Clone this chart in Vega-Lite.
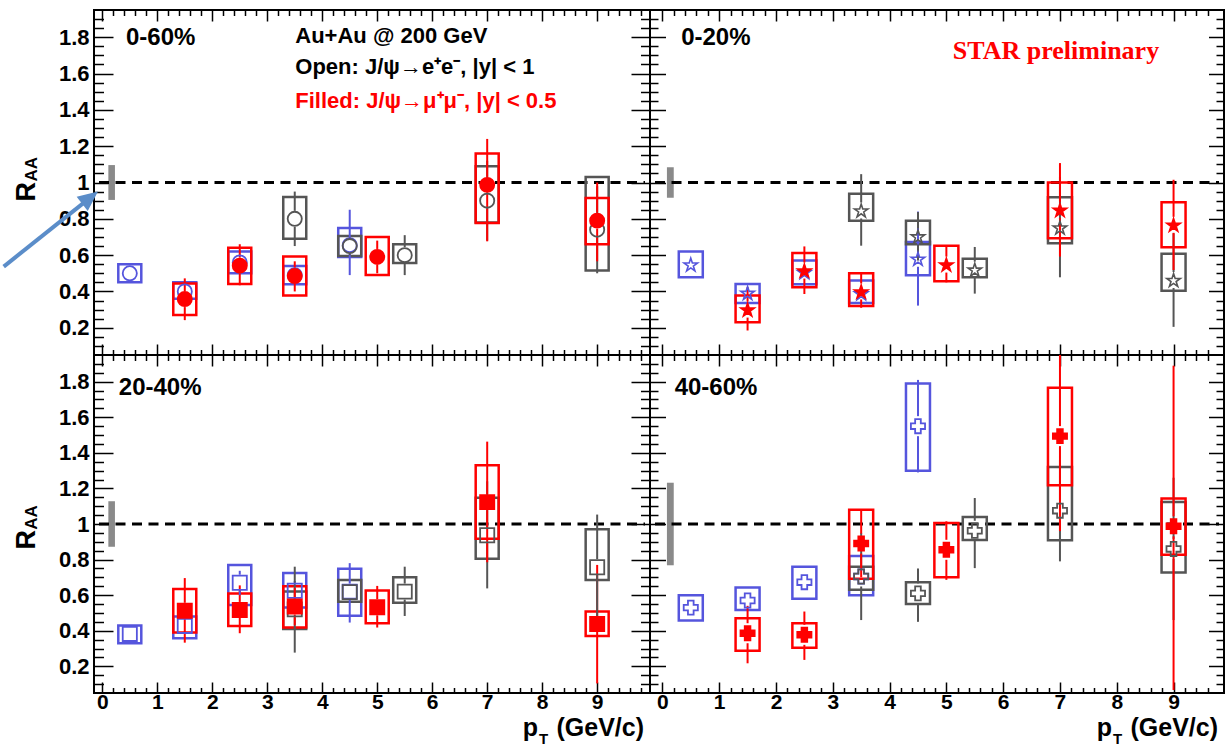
{
 "$schema": "https://vega.github.io/schema/vega-lite/v6.json",
 "padding": {"left": 0, "top": 7, "right": 0, "bottom": 0},
 "background": "white",
 "columns": 2,
 "spacing": 0,
 "bounds": "flush",
 "datasets": {
  "gband": [
   {"panel": "0-60%", "lo": 0.904, "hi": 1.096},
   {"panel": "0-20%", "lo": 0.916, "hi": 1.084},
   {"panel": "20-40%", "lo": 0.872, "hi": 1.128},
   {"panel": "40-60%", "lo": 0.768, "hi": 1.232}
  ],
  "pts": [
   {"panel":"0-60%","s":"blue","pt":0.5,"v":0.5,"slo":0.45,"shi":0.55,"elo":0.48,"ehi":0.52},
   {"panel":"0-60%","s":"blue","pt":1.5,"v":0.4,"slo":0.36,"shi":0.45,"elo":0.37,"ehi":0.43},
   {"panel":"0-60%","s":"blue","pt":2.5,"v":0.56,"slo":0.5,"shi":0.62,"elo":0.53,"ehi":0.59},
   {"panel":"0-60%","s":"blue","pt":3.5,"v":0.49,"slo":0.44,"shi":0.54,"elo":0.46,"ehi":0.52},
   {"panel":"0-60%","s":"blue","pt":4.5,"v":0.655,"slo":0.59,"shi":0.75,"elo":0.49,"ehi":0.85},
   {"panel":"0-60%","s":"gray","pt":3.5,"v":0.8,"slo":0.69,"shi":0.92,"elo":0.65,"ehi":0.95},
   {"panel":"0-60%","s":"gray","pt":4.5,"v":0.65,"slo":0.595,"shi":0.705,"elo":0.6,"ehi":0.7},
   {"panel":"0-60%","s":"gray","pt":5.5,"v":0.6,"slo":0.557,"shi":0.66,"elo":0.49,"ehi":0.71},
   {"panel":"0-60%","s":"gray","pt":7,"v":0.9,"slo":0.78,"shi":1.09,"elo":0.68,"ehi":1.12},
   {"panel":"0-60%","s":"gray","pt":9,"v":0.74,"slo":0.515,"shi":1.03,"elo":0.5,"ehi":0.98},
   {"panel":"0-60%","s":"red","pt":1.5,"v":0.358,"slo":0.27,"shi":0.444,"elo":0.242,"ehi":0.472},
   {"panel":"0-60%","s":"red","pt":2.5,"v":0.542,"slo":0.441,"shi":0.641,"elo":0.434,"ehi":0.66},
   {"panel":"0-60%","s":"red","pt":3.5,"v":0.485,"slo":0.377,"shi":0.592,"elo":0.4,"ehi":0.566},
   {"panel":"0-60%","s":"red","pt":5,"v":0.59,"slo":0.49,"shi":0.7,"elo":0.5,"ehi":0.68},
   {"panel":"0-60%","s":"red","pt":7,"v":0.987,"slo":0.777,"shi":1.16,"elo":0.676,"ehi":1.24},
   {"panel":"0-60%","s":"red","pt":9,"v":0.79,"slo":0.66,"shi":0.914,"elo":0.566,"ehi":1.0},

   {"panel":"0-20%","s":"blue","pt":0.5,"v":0.548,"slo":0.478,"shi":0.62,"elo":0.52,"ehi":0.575},
   {"panel":"0-20%","s":"blue","pt":1.5,"v":0.392,"slo":0.337,"shi":0.441,"elo":0.35,"ehi":0.44},
   {"panel":"0-20%","s":"blue","pt":2.5,"v":0.507,"slo":0.44,"shi":0.57,"elo":0.47,"ehi":0.545},
   {"panel":"0-20%","s":"blue","pt":3.5,"v":0.39,"slo":0.337,"shi":0.46,"elo":0.36,"ehi":0.42},
   {"panel":"0-20%","s":"blue","pt":4.5,"v":0.58,"slo":0.489,"shi":0.672,"elo":0.322,"ehi":0.84},
   {"panel":"0-20%","s":"gray","pt":3.5,"v":0.846,"slo":0.79,"shi":0.938,"elo":0.652,"ehi":1.046},
   {"panel":"0-20%","s":"gray","pt":4.5,"v":0.703,"slo":0.66,"shi":0.79,"elo":0.57,"ehi":0.837},
   {"panel":"0-20%","s":"gray","pt":5.5,"v":0.52,"slo":0.478,"shi":0.58,"elo":0.388,"ehi":0.645},
   {"panel":"0-20%","s":"gray","pt":7,"v":0.752,"slo":0.665,"shi":0.919,"elo":0.478,"ehi":1.03},
   {"panel":"0-20%","s":"gray","pt":9,"v":0.463,"slo":0.404,"shi":0.607,"elo":0.205,"ehi":0.72},
   {"panel":"0-20%","s":"red","pt":1.5,"v":0.3,"slo":0.231,"shi":0.377,"elo":0.185,"ehi":0.423},
   {"panel":"0-20%","s":"red","pt":2.5,"v":0.515,"slo":0.423,"shi":0.612,"elo":0.386,"ehi":0.648},
   {"panel":"0-20%","s":"red","pt":3.5,"v":0.4,"slo":0.32,"shi":0.5,"elo":0.31,"ehi":0.505},
   {"panel":"0-20%","s":"red","pt":5,"v":0.548,"slo":0.456,"shi":0.652,"elo":0.45,"ehi":0.652},
   {"panel":"0-20%","s":"red","pt":7,"v":0.849,"slo":0.693,"shi":1.0,"elo":0.592,"ehi":1.107},
   {"panel":"0-20%","s":"red","pt":9,"v":0.767,"slo":0.643,"shi":0.891,"elo":0.518,"ehi":1.015},

   {"panel":"20-40%","s":"blue","pt":0.5,"v":0.382,"slo":0.33,"shi":0.43,"elo":0.36,"ehi":0.4},
   {"panel":"20-40%","s":"blue","pt":1.5,"v":0.427,"slo":0.358,"shi":0.48,"elo":0.39,"ehi":0.46},
   {"panel":"20-40%","s":"blue","pt":2.5,"v":0.67,"slo":0.545,"shi":0.77,"elo":0.6,"ehi":0.737},
   {"panel":"20-40%","s":"blue","pt":3.5,"v":0.625,"slo":0.53,"shi":0.725,"elo":0.57,"ehi":0.68},
   {"panel":"20-40%","s":"blue","pt":4.5,"v":0.62,"slo":0.484,"shi":0.748,"elo":0.446,"ehi":0.78},
   {"panel":"20-40%","s":"gray","pt":3.5,"v":0.52,"slo":0.41,"shi":0.62,"elo":0.277,"ehi":0.76},
   {"panel":"20-40%","s":"gray","pt":4.5,"v":0.617,"slo":0.563,"shi":0.685,"elo":0.58,"ehi":0.65},
   {"panel":"20-40%","s":"gray","pt":5.5,"v":0.62,"slo":0.558,"shi":0.7,"elo":0.483,"ehi":0.76},
   {"panel":"20-40%","s":"gray","pt":7,"v":0.937,"slo":0.804,"shi":1.147,"elo":0.638,"ehi":1.24},
   {"panel":"20-40%","s":"gray","pt":9,"v":0.757,"slo":0.685,"shi":0.97,"elo":0.46,"ehi":1.053},
   {"panel":"20-40%","s":"red","pt":1.5,"v":0.512,"slo":0.39,"shi":0.634,"elo":0.333,"ehi":0.696},
   {"panel":"20-40%","s":"red","pt":2.5,"v":0.517,"slo":0.427,"shi":0.61,"elo":0.386,"ehi":0.655},
   {"panel":"20-40%","s":"red","pt":3.5,"v":0.536,"slo":0.418,"shi":0.65,"elo":0.43,"ehi":0.64},
   {"panel":"20-40%","s":"red","pt":5,"v":0.532,"slo":0.442,"shi":0.626,"elo":0.418,"ehi":0.652},
   {"panel":"20-40%","s":"red","pt":7,"v":1.123,"slo":0.917,"shi":1.33,"elo":0.785,"ehi":1.463},
   {"panel":"20-40%","s":"red","pt":9,"v":0.438,"slo":0.37,"shi":0.508,"elo":0.104,"ehi":0.77},

   {"panel":"40-60%","s":"blue","pt":0.5,"v":0.53,"slo":0.457,"shi":0.6,"elo":0.5,"ehi":0.56},
   {"panel":"40-60%","s":"blue","pt":1.5,"v":0.57,"slo":0.517,"shi":0.643,"elo":0.54,"ehi":0.6},
   {"panel":"40-60%","s":"blue","pt":2.5,"v":0.673,"slo":0.58,"shi":0.76,"elo":0.64,"ehi":0.71},
   {"panel":"40-60%","s":"blue","pt":3.5,"v":0.705,"slo":0.6,"shi":0.82,"elo":0.66,"ehi":0.75},
   {"panel":"40-60%","s":"blue","pt":4.5,"v":1.55,"slo":1.3,"shi":1.79,"elo":1.29,"ehi":1.81},
   {"panel":"40-60%","s":"gray","pt":3.5,"v":0.705,"slo":0.63,"shi":0.76,"elo":0.46,"ehi":0.95},
   {"panel":"40-60%","s":"gray","pt":4.5,"v":0.61,"slo":0.55,"shi":0.673,"elo":0.45,"ehi":0.75},
   {"panel":"40-60%","s":"gray","pt":5.5,"v":0.962,"slo":0.91,"shi":1.04,"elo":0.752,"ehi":1.146},
   {"panel":"40-60%","s":"gray","pt":7,"v":1.075,"slo":0.908,"shi":1.32,"elo":0.79,"ehi":1.36},
   {"panel":"40-60%","s":"gray","pt":9,"v":0.86,"slo":0.728,"shi":1.124,"elo":0.46,"ehi":1.26},
   {"panel":"40-60%","s":"red","pt":1.5,"v":0.386,"slo":0.288,"shi":0.47,"elo":0.217,"ehi":0.54},
   {"panel":"40-60%","s":"red","pt":2.5,"v":0.377,"slo":0.305,"shi":0.442,"elo":0.236,"ehi":0.508},
   {"panel":"40-60%","s":"red","pt":3.5,"v":0.89,"slo":0.692,"shi":1.08,"elo":0.7,"ehi":1.08},
   {"panel":"40-60%","s":"red","pt":5,"v":0.855,"slo":0.7,"shi":1.006,"elo":0.686,"ehi":1.015},
   {"panel":"40-60%","s":"red","pt":7,"v":1.494,"slo":1.218,"shi":1.766,"elo":0.96,"ehi":2.1},
   {"panel":"40-60%","s":"red","pt":9,"v":0.987,"slo":0.827,"shi":1.143,"elo":0.067,"ehi":1.89}
  ]
 },
 "concat": [
  {
   "width": 556, "height": 345,
   "layer": [
    {"data": {"name": "gband"}, "transform": [{"filter": "datum.panel=='0-60%'"}],
     "mark": {"type": "rect", "fill": "#8a8a8a"},
     "encoding": {
      "x": {"datum": 0.11, "type": "quantitative", "scale": {"domain": [-0.06, 9.87], "nice": false, "zero": false},
            "axis": {"orient": "top", "title": null, "labels": false, "values": [0,0.2,0.4,0.6,0.8,1,1.2,1.4,1.6,1.8,2,2.2,2.4,2.6,2.8,3,3.2,3.4,3.6,3.8,4,4.2,4.4,4.6,4.8,5,5.2,5.4,5.6,5.8,6,6.2,6.4,6.6,6.8,7,7.2,7.4,7.6,7.8,8,8.2,8.4,8.6,8.8,9,9.2,9.4,9.6,9.8],
                     "tickSize": {"condition": {"test": "abs(datum.value-round(datum.value))<0.01", "value": -11}, "value": -5.5}}},
      "x2": {"datum": 0.23},
      "y": {"field": "lo", "type": "quantitative", "scale": {"domain": [0.05, 1.95], "nice": false, "zero": false},
            "axis": {"orient": "right", "title": null, "labels": false, "values": [0.1,0.15,0.2,0.25,0.3,0.35,0.4,0.45,0.5,0.55,0.6,0.65,0.7,0.75,0.8,0.85,0.9,0.95,1,1.05,1.1,1.15,1.2,1.25,1.3,1.35,1.4,1.45,1.5,1.55,1.6,1.65,1.7,1.75,1.8,1.85,1.9],
                     "tickSize": {"condition": {"test": "abs(datum.value*5-round(datum.value*5))<0.01", "value": -19}, "value": -9.5}}},
      "y2": {"field": "hi"}
     }},
    {"data": {"values": [{}]},
     "mark": {"type": "rule", "color": "black", "strokeWidth": 3, "strokeDash": [10, 6.5]},
     "encoding": {
      "x": {"datum": -0.06, "type": "quantitative", "scale": {"domain": [-0.06, 9.87], "nice": false, "zero": false},
            "axis": {"orient": "bottom", "title": null, "labels": false, "values": [0,0.2,0.4,0.6,0.8,1,1.2,1.4,1.6,1.8,2,2.2,2.4,2.6,2.8,3,3.2,3.4,3.6,3.8,4,4.2,4.4,4.6,4.8,5,5.2,5.4,5.6,5.8,6,6.2,6.4,6.6,6.8,7,7.2,7.4,7.6,7.8,8,8.2,8.4,8.6,8.8,9,9.2,9.4,9.6,9.8],
                     "tickSize": {"condition": {"test": "abs(datum.value-round(datum.value))<0.01", "value": -11}, "value": -5.5}}},
      "x2": {"datum": 9.87},
      "y": {"datum": 1, "type": "quantitative", "scale": {"domain": [0.05, 1.95], "nice": false, "zero": false},
            "axis": {"orient": "left", "title": null, "values": [0.1,0.15,0.2,0.25,0.3,0.35,0.4,0.45,0.5,0.55,0.6,0.65,0.7,0.75,0.8,0.85,0.9,0.95,1,1.05,1.1,1.15,1.2,1.25,1.3,1.35,1.4,1.45,1.5,1.55,1.6,1.65,1.7,1.75,1.8,1.85,1.9],
                     "tickSize": {"condition": {"test": "abs(datum.value*5-round(datum.value*5))<0.01", "value": -19}, "value": -9.5},
                     "labelExpr": "abs(datum.value*5-round(datum.value*5))<0.01 ? ''+datum.value : ''",
                     "labelFontSize": 22, "labelPadding": 24}}
     }},
    {"data": {"name": "pts"}, "transform": [{"filter": "datum.panel=='0-60%'"}],
     "mark": {"type": "bar", "orient": "vertical", "width": 23, "fill": "transparent", "strokeWidth": 2.5},
     "encoding": {
      "x": {"field": "pt", "type": "quantitative", "scale": {"domain": [-0.06, 9.87], "nice": false, "zero": false}, "axis": null},
      "y": {"field": "slo", "type": "quantitative", "scale": {"domain": [0.05, 1.95], "nice": false, "zero": false}, "axis": null},
      "y2": {"field": "shi"},
      "stroke": {"field": "s", "type": "nominal", "scale": {"domain": ["blue","gray","red"], "range": ["#5555dd","#555555","#ff0000"]}, "legend": null}
     }},
    {"data": {"name": "pts"}, "transform": [{"filter": "datum.panel=='0-60%' && datum.ehi-datum.v>0.045"}],
     "mark": {"type": "rule", "strokeWidth": 2, "yOffset": -8, "clip": true},
     "encoding": {
      "x": {"field": "pt", "type": "quantitative", "scale": {"domain": [-0.06, 9.87], "nice": false, "zero": false}, "axis": null},
      "y": {"field": "v", "type": "quantitative", "scale": {"domain": [0.05, 1.95], "nice": false, "zero": false}, "axis": null},
      "y2": {"field": "ehi"},
      "stroke": {"field": "s", "type": "nominal", "scale": {"domain": ["blue","gray","red"], "range": ["#5555dd","#555555","#ff0000"]}, "legend": null}
     }},
    {"data": {"name": "pts"}, "transform": [{"filter": "datum.panel=='0-60%' && datum.v-datum.elo>0.045"}],
     "mark": {"type": "rule", "strokeWidth": 2, "yOffset": 8, "clip": true},
     "encoding": {
      "x": {"field": "pt", "type": "quantitative", "scale": {"domain": [-0.06, 9.87], "nice": false, "zero": false}, "axis": null},
      "y": {"field": "v", "type": "quantitative", "scale": {"domain": [0.05, 1.95], "nice": false, "zero": false}, "axis": null},
      "y2": {"field": "elo"},
      "stroke": {"field": "s", "type": "nominal", "scale": {"domain": ["blue","gray","red"], "range": ["#5555dd","#555555","#ff0000"]}, "legend": null}
     }},
    {"data": {"name": "pts"}, "transform": [{"filter": "datum.panel=='0-60%'"}],
     "mark": {"type": "point", "shape": "circle", "strokeWidth": 1.8, "opacity": 1},
     "encoding": {
      "x": {"field": "pt", "type": "quantitative", "scale": {"domain": [-0.06, 9.87], "nice": false, "zero": false}, "axis": null},
      "y": {"field": "v", "type": "quantitative", "scale": {"domain": [0.05, 1.95], "nice": false, "zero": false}, "axis": null},
      "stroke": {"field": "s", "type": "nominal", "scale": {"domain": ["blue","gray","red"], "range": ["#5555dd","#555555","#ff0000"]}, "legend": null},
      "fill": {"field": "s", "type": "nominal", "scale": {"domain": ["blue","gray","red"], "range": ["transparent","transparent","#ff0000"]}, "legend": null},
      "size": {"field": "s", "type": "ordinal", "scale": {"domain": ["blue","gray","red"], "range": [200, 200, 250]}, "legend": null}
     }},
    {"data": {"values": [{}]},
     "mark": {"type": "text", "text": "0-60%", "align": "left", "baseline": "alphabetic", "font": "Liberation Sans", "fontWeight": "bold", "fontSize": 24, "color": "black"},
     "encoding": {"x": {"datum": 0.43, "type": "quantitative", "scale": {"domain": [-0.06, 9.87], "nice": false, "zero": false}, "axis": null},
                  "y": {"datum": 1.759, "type": "quantitative", "scale": {"domain": [0.05, 1.95], "nice": false, "zero": false}, "axis": null}}},
    {"data": {"values": [{}]},
     "mark": {"type": "text", "text": "Au+Au @ 200 GeV", "align": "left", "baseline": "alphabetic", "font": "Liberation Sans", "fontWeight": "bold", "fontSize": 22, "color": "black"},
     "encoding": {"x": {"datum": 3.51, "type": "quantitative", "scale": {"domain": [-0.06, 9.87], "nice": false, "zero": false}, "axis": null},
                  "y": {"datum": 1.767, "type": "quantitative", "scale": {"domain": [0.05, 1.95], "nice": false, "zero": false}, "axis": null}}},
    {"data": {"values": [{}]},
     "mark": {"type": "text", "text": "Open: J/ψ→e⁺e⁻, |y| < 1", "align": "left", "baseline": "alphabetic", "font": "Liberation Sans", "fontWeight": "bold", "fontSize": 22, "color": "black"},
     "encoding": {"x": {"datum": 3.51, "type": "quantitative", "scale": {"domain": [-0.06, 9.87], "nice": false, "zero": false}, "axis": null},
                  "y": {"datum": 1.597, "type": "quantitative", "scale": {"domain": [0.05, 1.95], "nice": false, "zero": false}, "axis": null}}},
    {"data": {"values": [{}]},
     "mark": {"type": "text", "text": "Filled: J/ψ→μ⁺μ⁻, |y| < 0.5", "align": "left", "baseline": "alphabetic", "font": "Liberation Sans", "fontWeight": "bold", "fontSize": 22, "color": "#ff0000"},
     "encoding": {"x": {"datum": 3.51, "type": "quantitative", "scale": {"domain": [-0.06, 9.87], "nice": false, "zero": false}, "axis": null},
                  "y": {"datum": 1.413, "type": "quantitative", "scale": {"domain": [0.05, 1.95], "nice": false, "zero": false}, "axis": null}}},
    {"data": {"values": [{}]},
     "mark": {"type": "text", "text": "R", "angle": 270, "align": "left", "baseline": "alphabetic", "font": "Liberation Sans", "fontWeight": "bold", "fontSize": 27, "color": "black"},
     "encoding": {"x": {"datum": -1.221, "type": "quantitative", "scale": {"domain": [-0.06, 9.87], "nice": false, "zero": false}, "axis": null},
                  "y": {"datum": 0.895, "type": "quantitative", "scale": {"domain": [0.05, 1.95], "nice": false, "zero": false}, "axis": null}}},
    {"data": {"values": [{}]},
     "mark": {"type": "text", "text": "AA", "angle": 270, "align": "left", "baseline": "alphabetic", "font": "Liberation Sans", "fontWeight": "bold", "fontSize": 17, "color": "black"},
     "encoding": {"x": {"datum": -1.186, "type": "quantitative", "scale": {"domain": [-0.06, 9.87], "nice": false, "zero": false}, "axis": null},
                  "y": {"datum": 1.005, "type": "quantitative", "scale": {"domain": [0.05, 1.95], "nice": false, "zero": false}, "axis": null}}},
    {"data": {"values": [{}]},
     "mark": {"type": "rule", "stroke": "#5b8dc9", "strokeWidth": 4},
     "encoding": {"x": {"datum": -1.793, "type": "quantitative", "scale": {"domain": [-0.06, 9.87], "nice": false, "zero": false}, "axis": null},
                  "x2": {"datum": -0.293},
                  "y": {"datum": 0.537, "type": "quantitative", "scale": {"domain": [0.05, 1.95], "nice": false, "zero": false}, "axis": null},
                  "y2": {"datum": 0.899}}},
    {"data": {"values": [{}]},
     "mark": {"type": "point", "shape": "M0,0L0.9,2L-0.9,2Z", "angle": 52, "size": 400, "filled": true, "color": "#5b8dc9", "opacity": 1, "strokeWidth": 0},
     "encoding": {"x": {"datum": -0.079, "type": "quantitative", "scale": {"domain": [-0.06, 9.87], "nice": false, "zero": false}, "axis": null},
                  "y": {"datum": 0.95, "type": "quantitative", "scale": {"domain": [0.05, 1.95], "nice": false, "zero": false}, "axis": null}}}
   ],
   "resolve": {"axis": {"x": "independent", "y": "independent"}}
  },
  {
   "width": 574, "height": 345,
   "layer": [
    {"data": {"name": "gband"}, "transform": [{"filter": "datum.panel=='0-20%'"}],
     "mark": {"type": "rect", "fill": "#8a8a8a"},
     "encoding": {
      "x": {"datum": 0.08, "type": "quantitative", "scale": {"domain": [-0.13, 9.8], "nice": false, "zero": false},
            "axis": {"orient": "top", "title": null, "labels": false, "values": [0,0.2,0.4,0.6,0.8,1,1.2,1.4,1.6,1.8,2,2.2,2.4,2.6,2.8,3,3.2,3.4,3.6,3.8,4,4.2,4.4,4.6,4.8,5,5.2,5.4,5.6,5.8,6,6.2,6.4,6.6,6.8,7,7.2,7.4,7.6,7.8,8,8.2,8.4,8.6,8.8,9,9.2,9.4,9.6],
                     "tickSize": {"condition": {"test": "abs(datum.value-round(datum.value))<0.01", "value": -11}, "value": -5.5}}},
      "x2": {"datum": 0.2},
      "y": {"field": "lo", "type": "quantitative", "scale": {"domain": [0.05, 1.95], "nice": false, "zero": false},
            "axis": {"orient": "right", "title": null, "labels": false, "values": [0.1,0.15,0.2,0.25,0.3,0.35,0.4,0.45,0.5,0.55,0.6,0.65,0.7,0.75,0.8,0.85,0.9,0.95,1,1.05,1.1,1.15,1.2,1.25,1.3,1.35,1.4,1.45,1.5,1.55,1.6,1.65,1.7,1.75,1.8,1.85,1.9],
                     "tickSize": {"condition": {"test": "abs(datum.value*5-round(datum.value*5))<0.01", "value": -15.5}, "value": -8}}},
      "y2": {"field": "hi"}
     }},
    {"data": {"values": [{}]},
     "mark": {"type": "rule", "color": "black", "strokeWidth": 3, "strokeDash": [10, 6.5]},
     "encoding": {
      "x": {"datum": -0.13, "type": "quantitative", "scale": {"domain": [-0.13, 9.8], "nice": false, "zero": false},
            "axis": {"orient": "bottom", "title": null, "labels": false, "values": [0,0.2,0.4,0.6,0.8,1,1.2,1.4,1.6,1.8,2,2.2,2.4,2.6,2.8,3,3.2,3.4,3.6,3.8,4,4.2,4.4,4.6,4.8,5,5.2,5.4,5.6,5.8,6,6.2,6.4,6.6,6.8,7,7.2,7.4,7.6,7.8,8,8.2,8.4,8.6,8.8,9,9.2,9.4,9.6],
                     "tickSize": {"condition": {"test": "abs(datum.value-round(datum.value))<0.01", "value": -11}, "value": -5.5}}},
      "x2": {"datum": 9.8},
      "y": {"datum": 1, "type": "quantitative", "scale": {"domain": [0.05, 1.95], "nice": false, "zero": false},
            "axis": {"orient": "left", "title": null, "labels": false, "values": [0.1,0.15,0.2,0.25,0.3,0.35,0.4,0.45,0.5,0.55,0.6,0.65,0.7,0.75,0.8,0.85,0.9,0.95,1,1.05,1.1,1.15,1.2,1.25,1.3,1.35,1.4,1.45,1.5,1.55,1.6,1.65,1.7,1.75,1.8,1.85,1.9],
                     "tickSize": {"condition": {"test": "abs(datum.value*5-round(datum.value*5))<0.01", "value": -15.5}, "value": -8}}}
     }},
    {"data": {"name": "pts"}, "transform": [{"filter": "datum.panel=='0-20%'"}],
     "mark": {"type": "bar", "orient": "vertical", "width": 24, "fill": "transparent", "strokeWidth": 2.5},
     "encoding": {
      "x": {"field": "pt", "type": "quantitative", "scale": {"domain": [-0.13, 9.8], "nice": false, "zero": false}, "axis": null},
      "y": {"field": "slo", "type": "quantitative", "scale": {"domain": [0.05, 1.95], "nice": false, "zero": false}, "axis": null},
      "y2": {"field": "shi"},
      "stroke": {"field": "s", "type": "nominal", "scale": {"domain": ["blue","gray","red"], "range": ["#5555dd","#555555","#ff0000"]}, "legend": null}
     }},
    {"data": {"name": "pts"}, "transform": [{"filter": "datum.panel=='0-20%' && datum.ehi-datum.v>0.045"}],
     "mark": {"type": "rule", "strokeWidth": 2, "yOffset": -8, "clip": true},
     "encoding": {
      "x": {"field": "pt", "type": "quantitative", "scale": {"domain": [-0.13, 9.8], "nice": false, "zero": false}, "axis": null},
      "y": {"field": "v", "type": "quantitative", "scale": {"domain": [0.05, 1.95], "nice": false, "zero": false}, "axis": null},
      "y2": {"field": "ehi"},
      "stroke": {"field": "s", "type": "nominal", "scale": {"domain": ["blue","gray","red"], "range": ["#5555dd","#555555","#ff0000"]}, "legend": null}
     }},
    {"data": {"name": "pts"}, "transform": [{"filter": "datum.panel=='0-20%' && datum.v-datum.elo>0.045"}],
     "mark": {"type": "rule", "strokeWidth": 2, "yOffset": 8, "clip": true},
     "encoding": {
      "x": {"field": "pt", "type": "quantitative", "scale": {"domain": [-0.13, 9.8], "nice": false, "zero": false}, "axis": null},
      "y": {"field": "v", "type": "quantitative", "scale": {"domain": [0.05, 1.95], "nice": false, "zero": false}, "axis": null},
      "y2": {"field": "elo"},
      "stroke": {"field": "s", "type": "nominal", "scale": {"domain": ["blue","gray","red"], "range": ["#5555dd","#555555","#ff0000"]}, "legend": null}
     }},
    {"data": {"name": "pts"}, "transform": [{"filter": "datum.panel=='0-20%'"}],
     "mark": {"type": "point", "shape": "M0,-0.905L0.2245,-0.214L0.9511,-0.214L0.3633,0.213L0.5878,0.904L0,0.477L-0.5878,0.904L-0.3633,0.213L-0.9511,-0.214L-0.2245,-0.214Z", "strokeWidth": 1.6, "opacity": 1},
     "encoding": {
      "x": {"field": "pt", "type": "quantitative", "scale": {"domain": [-0.13, 9.8], "nice": false, "zero": false}, "axis": null},
      "y": {"field": "v", "type": "quantitative", "scale": {"domain": [0.05, 1.95], "nice": false, "zero": false}, "axis": null},
      "stroke": {"field": "s", "type": "nominal", "scale": {"domain": ["blue","gray","red"], "range": ["#5555dd","#555555","#ff0000"]}, "legend": null},
      "fill": {"field": "s", "type": "nominal", "scale": {"domain": ["blue","gray","red"], "range": ["transparent","transparent","#ff0000"]}, "legend": null},
      "size": {"field": "s", "type": "ordinal", "scale": {"domain": ["blue","gray","red"], "range": [300, 300, 340]}, "legend": null}
     }},
    {"data": {"values": [{}]},
     "mark": {"type": "text", "text": "0-20%", "align": "left", "baseline": "alphabetic", "font": "Liberation Sans", "fontWeight": "bold", "fontSize": 24, "color": "black"},
     "encoding": {"x": {"datum": 0.33, "type": "quantitative", "scale": {"domain": [-0.13, 9.8], "nice": false, "zero": false}, "axis": null},
                  "y": {"datum": 1.759, "type": "quantitative", "scale": {"domain": [0.05, 1.95], "nice": false, "zero": false}, "axis": null}}},
    {"data": {"values": [{}]},
     "mark": {"type": "text", "text": "STAR preliminary", "align": "center", "baseline": "alphabetic", "font": "Liberation Serif", "fontWeight": "bold", "fontSize": 26, "color": "#ff0000"},
     "encoding": {"x": {"datum": 6.93, "type": "quantitative", "scale": {"domain": [-0.13, 9.8], "nice": false, "zero": false}, "axis": null},
                  "y": {"datum": 1.68, "type": "quantitative", "scale": {"domain": [0.05, 1.95], "nice": false, "zero": false}, "axis": null}}}
   ],
   "resolve": {"axis": {"x": "independent", "y": "independent"}}
  },
  {
   "width": 556, "height": 338,
   "layer": [
    {"data": {"name": "gband"}, "transform": [{"filter": "datum.panel=='20-40%'"}],
     "mark": {"type": "rect", "fill": "#8a8a8a"},
     "encoding": {
      "x": {"datum": 0.11, "type": "quantitative", "scale": {"domain": [-0.06, 9.87], "nice": false, "zero": false},
            "axis": {"orient": "top", "title": null, "labels": false, "values": [0,0.2,0.4,0.6,0.8,1,1.2,1.4,1.6,1.8,2,2.2,2.4,2.6,2.8,3,3.2,3.4,3.6,3.8,4,4.2,4.4,4.6,4.8,5,5.2,5.4,5.6,5.8,6,6.2,6.4,6.6,6.8,7,7.2,7.4,7.6,7.8,8,8.2,8.4,8.6,8.8,9,9.2,9.4,9.6,9.8],
                     "tickSize": {"condition": {"test": "abs(datum.value-round(datum.value))<0.01", "value": -11}, "value": -5.5}}},
      "x2": {"datum": 0.23},
      "y": {"field": "lo", "type": "quantitative", "scale": {"domain": [0.05, 1.95], "nice": false, "zero": false},
            "axis": {"orient": "right", "title": null, "labels": false, "values": [0.1,0.15,0.2,0.25,0.3,0.35,0.4,0.45,0.5,0.55,0.6,0.65,0.7,0.75,0.8,0.85,0.9,0.95,1,1.05,1.1,1.15,1.2,1.25,1.3,1.35,1.4,1.45,1.5,1.55,1.6,1.65,1.7,1.75,1.8,1.85,1.9],
                     "tickSize": {"condition": {"test": "abs(datum.value*5-round(datum.value*5))<0.01", "value": -19}, "value": -9.5}}},
      "y2": {"field": "hi"}
     }},
    {"data": {"values": [{}]},
     "mark": {"type": "rule", "color": "black", "strokeWidth": 3, "strokeDash": [10, 6.5]},
     "encoding": {
      "x": {"datum": -0.06, "type": "quantitative", "scale": {"domain": [-0.06, 9.87], "nice": false, "zero": false},
            "axis": {"orient": "bottom", "title": null, "values": [0,0.2,0.4,0.6,0.8,1,1.2,1.4,1.6,1.8,2,2.2,2.4,2.6,2.8,3,3.2,3.4,3.6,3.8,4,4.2,4.4,4.6,4.8,5,5.2,5.4,5.6,5.8,6,6.2,6.4,6.6,6.8,7,7.2,7.4,7.6,7.8,8,8.2,8.4,8.6,8.8,9,9.2,9.4,9.6,9.8],
                     "tickSize": {"condition": {"test": "abs(datum.value-round(datum.value))<0.01", "value": -11}, "value": -5.5},
                     "labelExpr": "abs(datum.value-round(datum.value))<0.01 ? ''+round(datum.value) : ''",
                     "labelFontSize": 21, "labelPadding": 9}},
      "x2": {"datum": 9.87},
      "y": {"datum": 1, "type": "quantitative", "scale": {"domain": [0.05, 1.95], "nice": false, "zero": false},
            "axis": {"orient": "left", "title": null, "values": [0.1,0.15,0.2,0.25,0.3,0.35,0.4,0.45,0.5,0.55,0.6,0.65,0.7,0.75,0.8,0.85,0.9,0.95,1,1.05,1.1,1.15,1.2,1.25,1.3,1.35,1.4,1.45,1.5,1.55,1.6,1.65,1.7,1.75,1.8,1.85,1.9],
                     "tickSize": {"condition": {"test": "abs(datum.value*5-round(datum.value*5))<0.01", "value": -19}, "value": -9.5},
                     "labelExpr": "abs(datum.value*5-round(datum.value*5))<0.01 ? ''+datum.value : ''",
                     "labelFontSize": 22, "labelPadding": 24}}
     }},
    {"data": {"name": "pts"}, "transform": [{"filter": "datum.panel=='20-40%'"}],
     "mark": {"type": "bar", "orient": "vertical", "width": 23, "fill": "transparent", "strokeWidth": 2.5},
     "encoding": {
      "x": {"field": "pt", "type": "quantitative", "scale": {"domain": [-0.06, 9.87], "nice": false, "zero": false}, "axis": null},
      "y": {"field": "slo", "type": "quantitative", "scale": {"domain": [0.05, 1.95], "nice": false, "zero": false}, "axis": null},
      "y2": {"field": "shi"},
      "stroke": {"field": "s", "type": "nominal", "scale": {"domain": ["blue","gray","red"], "range": ["#5555dd","#555555","#ff0000"]}, "legend": null}
     }},
    {"data": {"name": "pts"}, "transform": [{"filter": "datum.panel=='20-40%' && datum.ehi-datum.v>0.046"}],
     "mark": {"type": "rule", "strokeWidth": 2, "yOffset": -8, "clip": true},
     "encoding": {
      "x": {"field": "pt", "type": "quantitative", "scale": {"domain": [-0.06, 9.87], "nice": false, "zero": false}, "axis": null},
      "y": {"field": "v", "type": "quantitative", "scale": {"domain": [0.05, 1.95], "nice": false, "zero": false}, "axis": null},
      "y2": {"field": "ehi"},
      "stroke": {"field": "s", "type": "nominal", "scale": {"domain": ["blue","gray","red"], "range": ["#5555dd","#555555","#ff0000"]}, "legend": null}
     }},
    {"data": {"name": "pts"}, "transform": [{"filter": "datum.panel=='20-40%' && datum.v-datum.elo>0.046"}],
     "mark": {"type": "rule", "strokeWidth": 2, "yOffset": 8, "clip": true},
     "encoding": {
      "x": {"field": "pt", "type": "quantitative", "scale": {"domain": [-0.06, 9.87], "nice": false, "zero": false}, "axis": null},
      "y": {"field": "v", "type": "quantitative", "scale": {"domain": [0.05, 1.95], "nice": false, "zero": false}, "axis": null},
      "y2": {"field": "elo"},
      "stroke": {"field": "s", "type": "nominal", "scale": {"domain": ["blue","gray","red"], "range": ["#5555dd","#555555","#ff0000"]}, "legend": null}
     }},
    {"data": {"name": "pts"}, "transform": [{"filter": "datum.panel=='20-40%'"}],
     "mark": {"type": "point", "shape": "square", "strokeWidth": 1.8, "opacity": 1},
     "encoding": {
      "x": {"field": "pt", "type": "quantitative", "scale": {"domain": [-0.06, 9.87], "nice": false, "zero": false}, "axis": null},
      "y": {"field": "v", "type": "quantitative", "scale": {"domain": [0.05, 1.95], "nice": false, "zero": false}, "axis": null},
      "stroke": {"field": "s", "type": "nominal", "scale": {"domain": ["blue","gray","red"], "range": ["#5555dd","#555555","#ff0000"]}, "legend": null},
      "fill": {"field": "s", "type": "nominal", "scale": {"domain": ["blue","gray","red"], "range": ["transparent","transparent","#ff0000"]}, "legend": null},
      "size": {"field": "s", "type": "ordinal", "scale": {"domain": ["blue","gray","red"], "range": [200, 200, 300]}, "legend": null}
     }},
    {"data": {"values": [{}]},
     "mark": {"type": "text", "text": "20-40%", "align": "left", "baseline": "alphabetic", "font": "Liberation Sans", "fontWeight": "bold", "fontSize": 24, "color": "black"},
     "encoding": {"x": {"datum": 0.3, "type": "quantitative", "scale": {"domain": [-0.06, 9.87], "nice": false, "zero": false}, "axis": null},
                  "y": {"datum": 1.726, "type": "quantitative", "scale": {"domain": [0.05, 1.95], "nice": false, "zero": false}, "axis": null}}},
    {"data": {"values": [{}]},
     "mark": {"type": "text", "text": "R", "angle": 270, "align": "left", "baseline": "alphabetic", "font": "Liberation Sans", "fontWeight": "bold", "fontSize": 27, "color": "black"},
     "encoding": {"x": {"datum": -1.221, "type": "quantitative", "scale": {"domain": [-0.06, 9.87], "nice": false, "zero": false}, "axis": null},
                  "y": {"datum": 0.857, "type": "quantitative", "scale": {"domain": [0.05, 1.95], "nice": false, "zero": false}, "axis": null}}},
    {"data": {"values": [{}]},
     "mark": {"type": "text", "text": "AA", "angle": 270, "align": "left", "baseline": "alphabetic", "font": "Liberation Sans", "fontWeight": "bold", "fontSize": 17, "color": "black"},
     "encoding": {"x": {"datum": -1.186, "type": "quantitative", "scale": {"domain": [-0.06, 9.87], "nice": false, "zero": false}, "axis": null},
                  "y": {"datum": 0.967, "type": "quantitative", "scale": {"domain": [0.05, 1.95], "nice": false, "zero": false}, "axis": null}}},
    {"data": {"values": [{}]},
     "mark": {"type": "text", "text": "(GeV/c)", "align": "right", "baseline": "alphabetic", "dx": -1, "font": "Liberation Sans", "fontWeight": "bold", "fontSize": 25, "color": "black"},
     "encoding": {"x": {"datum": 9.87, "type": "quantitative", "scale": {"domain": [-0.06, 9.87], "nice": false, "zero": false}, "axis": null},
                  "y": {"datum": -0.193, "type": "quantitative", "scale": {"domain": [0.05, 1.95], "nice": false, "zero": false}, "axis": null}}},
    {"data": {"values": [{}]},
     "mark": {"type": "text", "text": "p", "align": "right", "baseline": "alphabetic", "dx": -107, "font": "Liberation Sans", "fontWeight": "bold", "fontSize": 25, "color": "black"},
     "encoding": {"x": {"datum": 9.87, "type": "quantitative", "scale": {"domain": [-0.06, 9.87], "nice": false, "zero": false}, "axis": null},
                  "y": {"datum": -0.193, "type": "quantitative", "scale": {"domain": [0.05, 1.95], "nice": false, "zero": false}, "axis": null}}},
    {"data": {"values": [{}]},
     "mark": {"type": "text", "text": "T", "align": "left", "baseline": "alphabetic", "dx": -106, "dy": 8, "font": "Liberation Sans", "fontWeight": "bold", "fontSize": 15, "color": "black"},
     "encoding": {"x": {"datum": 9.87, "type": "quantitative", "scale": {"domain": [-0.06, 9.87], "nice": false, "zero": false}, "axis": null},
                  "y": {"datum": -0.193, "type": "quantitative", "scale": {"domain": [0.05, 1.95], "nice": false, "zero": false}, "axis": null}}}
   ],
   "resolve": {"axis": {"x": "independent", "y": "independent"}}
  },
  {
   "width": 574, "height": 338,
   "layer": [
    {"data": {"name": "gband"}, "transform": [{"filter": "datum.panel=='40-60%'"}],
     "mark": {"type": "rect", "fill": "#8a8a8a"},
     "encoding": {
      "x": {"datum": 0.08, "type": "quantitative", "scale": {"domain": [-0.13, 9.8], "nice": false, "zero": false},
            "axis": {"orient": "top", "title": null, "labels": false, "values": [0,0.2,0.4,0.6,0.8,1,1.2,1.4,1.6,1.8,2,2.2,2.4,2.6,2.8,3,3.2,3.4,3.6,3.8,4,4.2,4.4,4.6,4.8,5,5.2,5.4,5.6,5.8,6,6.2,6.4,6.6,6.8,7,7.2,7.4,7.6,7.8,8,8.2,8.4,8.6,8.8,9,9.2,9.4,9.6],
                     "tickSize": {"condition": {"test": "abs(datum.value-round(datum.value))<0.01", "value": -11}, "value": -5.5}}},
      "x2": {"datum": 0.2},
      "y": {"field": "lo", "type": "quantitative", "scale": {"domain": [0.05, 1.95], "nice": false, "zero": false},
            "axis": {"orient": "right", "title": null, "labels": false, "values": [0.1,0.15,0.2,0.25,0.3,0.35,0.4,0.45,0.5,0.55,0.6,0.65,0.7,0.75,0.8,0.85,0.9,0.95,1,1.05,1.1,1.15,1.2,1.25,1.3,1.35,1.4,1.45,1.5,1.55,1.6,1.65,1.7,1.75,1.8,1.85,1.9],
                     "tickSize": {"condition": {"test": "abs(datum.value*5-round(datum.value*5))<0.01", "value": -15.5}, "value": -8}}},
      "y2": {"field": "hi"}
     }},
    {"data": {"values": [{}]},
     "mark": {"type": "rule", "color": "black", "strokeWidth": 3, "strokeDash": [10, 6.5]},
     "encoding": {
      "x": {"datum": -0.13, "type": "quantitative", "scale": {"domain": [-0.13, 9.8], "nice": false, "zero": false},
            "axis": {"orient": "bottom", "title": null, "values": [0,0.2,0.4,0.6,0.8,1,1.2,1.4,1.6,1.8,2,2.2,2.4,2.6,2.8,3,3.2,3.4,3.6,3.8,4,4.2,4.4,4.6,4.8,5,5.2,5.4,5.6,5.8,6,6.2,6.4,6.6,6.8,7,7.2,7.4,7.6,7.8,8,8.2,8.4,8.6,8.8,9,9.2,9.4,9.6],
                     "tickSize": {"condition": {"test": "abs(datum.value-round(datum.value))<0.01", "value": -11}, "value": -5.5},
                     "labelExpr": "abs(datum.value-round(datum.value))<0.01 ? ''+round(datum.value) : ''",
                     "labelFontSize": 21, "labelPadding": 9}},
      "x2": {"datum": 9.8},
      "y": {"datum": 1, "type": "quantitative", "scale": {"domain": [0.05, 1.95], "nice": false, "zero": false},
            "axis": {"orient": "left", "title": null, "labels": false, "values": [0.1,0.15,0.2,0.25,0.3,0.35,0.4,0.45,0.5,0.55,0.6,0.65,0.7,0.75,0.8,0.85,0.9,0.95,1,1.05,1.1,1.15,1.2,1.25,1.3,1.35,1.4,1.45,1.5,1.55,1.6,1.65,1.7,1.75,1.8,1.85,1.9],
                     "tickSize": {"condition": {"test": "abs(datum.value*5-round(datum.value*5))<0.01", "value": -15.5}, "value": -8}}}
     }},
    {"data": {"name": "pts"}, "transform": [{"filter": "datum.panel=='40-60%'"}],
     "mark": {"type": "bar", "orient": "vertical", "width": 24, "fill": "transparent", "strokeWidth": 2.5},
     "encoding": {
      "x": {"field": "pt", "type": "quantitative", "scale": {"domain": [-0.13, 9.8], "nice": false, "zero": false}, "axis": null},
      "y": {"field": "slo", "type": "quantitative", "scale": {"domain": [0.05, 1.95], "nice": false, "zero": false}, "axis": null},
      "y2": {"field": "shi"},
      "stroke": {"field": "s", "type": "nominal", "scale": {"domain": ["blue","gray","red"], "range": ["#5555dd","#555555","#ff0000"]}, "legend": null}
     }},
    {"data": {"name": "pts"}, "transform": [{"filter": "datum.panel=='40-60%' && datum.ehi-datum.v>0.057"}],
     "mark": {"type": "rule", "strokeWidth": 2, "yOffset": -10, "clip": true},
     "encoding": {
      "x": {"field": "pt", "type": "quantitative", "scale": {"domain": [-0.13, 9.8], "nice": false, "zero": false}, "axis": null},
      "y": {"field": "v", "type": "quantitative", "scale": {"domain": [0.05, 1.95], "nice": false, "zero": false}, "axis": null},
      "y2": {"field": "ehi"},
      "stroke": {"field": "s", "type": "nominal", "scale": {"domain": ["blue","gray","red"], "range": ["#5555dd","#555555","#ff0000"]}, "legend": null}
     }},
    {"data": {"name": "pts"}, "transform": [{"filter": "datum.panel=='40-60%' && datum.v-datum.elo>0.057"}],
     "mark": {"type": "rule", "strokeWidth": 2, "yOffset": 10, "clip": true},
     "encoding": {
      "x": {"field": "pt", "type": "quantitative", "scale": {"domain": [-0.13, 9.8], "nice": false, "zero": false}, "axis": null},
      "y": {"field": "v", "type": "quantitative", "scale": {"domain": [0.05, 1.95], "nice": false, "zero": false}, "axis": null},
      "y2": {"field": "elo"},
      "stroke": {"field": "s", "type": "nominal", "scale": {"domain": ["blue","gray","red"], "range": ["#5555dd","#555555","#ff0000"]}, "legend": null}
     }},
    {"data": {"name": "pts"}, "transform": [{"filter": "datum.panel=='40-60%'"}],
     "mark": {"type": "point", "shape": "cross", "strokeWidth": 1.8, "opacity": 1},
     "encoding": {
      "x": {"field": "pt", "type": "quantitative", "scale": {"domain": [-0.13, 9.8], "nice": false, "zero": false}, "axis": null},
      "y": {"field": "v", "type": "quantitative", "scale": {"domain": [0.05, 1.95], "nice": false, "zero": false}, "axis": null},
      "stroke": {"field": "s", "type": "nominal", "scale": {"domain": ["blue","gray","red"], "range": ["#5555dd","#555555","#ff0000"]}, "legend": null},
      "fill": {"field": "s", "type": "nominal", "scale": {"domain": ["blue","gray","red"], "range": ["transparent","transparent","#ff0000"]}, "legend": null},
      "size": {"field": "s", "type": "ordinal", "scale": {"domain": ["blue","gray","red"], "range": [380, 380, 520]}, "legend": null}
     }},
    {"data": {"values": [{}]},
     "mark": {"type": "text", "text": "40-60%", "align": "left", "baseline": "alphabetic", "font": "Liberation Sans", "fontWeight": "bold", "fontSize": 24, "color": "black"},
     "encoding": {"x": {"datum": 0.216, "type": "quantitative", "scale": {"domain": [-0.13, 9.8], "nice": false, "zero": false}, "axis": null},
                  "y": {"datum": 1.726, "type": "quantitative", "scale": {"domain": [0.05, 1.95], "nice": false, "zero": false}, "axis": null}}},
    {"data": {"values": [{}]},
     "mark": {"type": "text", "text": "(GeV/c)", "align": "right", "baseline": "alphabetic", "dx": -1, "font": "Liberation Sans", "fontWeight": "bold", "fontSize": 25, "color": "black"},
     "encoding": {"x": {"datum": 9.8, "type": "quantitative", "scale": {"domain": [-0.13, 9.8], "nice": false, "zero": false}, "axis": null},
                  "y": {"datum": -0.193, "type": "quantitative", "scale": {"domain": [0.05, 1.95], "nice": false, "zero": false}, "axis": null}}},
    {"data": {"values": [{}]},
     "mark": {"type": "text", "text": "p", "align": "right", "baseline": "alphabetic", "dx": -107, "font": "Liberation Sans", "fontWeight": "bold", "fontSize": 25, "color": "black"},
     "encoding": {"x": {"datum": 9.8, "type": "quantitative", "scale": {"domain": [-0.13, 9.8], "nice": false, "zero": false}, "axis": null},
                  "y": {"datum": -0.193, "type": "quantitative", "scale": {"domain": [0.05, 1.95], "nice": false, "zero": false}, "axis": null}}},
    {"data": {"values": [{}]},
     "mark": {"type": "text", "text": "T", "align": "left", "baseline": "alphabetic", "dx": -106, "dy": 8, "font": "Liberation Sans", "fontWeight": "bold", "fontSize": 15, "color": "black"},
     "encoding": {"x": {"datum": 9.8, "type": "quantitative", "scale": {"domain": [-0.13, 9.8], "nice": false, "zero": false}, "axis": null},
                  "y": {"datum": -0.193, "type": "quantitative", "scale": {"domain": [0.05, 1.95], "nice": false, "zero": false}, "axis": null}}}
   ],
   "resolve": {"axis": {"x": "independent", "y": "independent"}}
  }
 ],
 "config": {
  "view": {"stroke": "black", "strokeWidth": 2},
  "axis": {"domain": false, "grid": false, "tickColor": "black", "tickWidth": 1.5, "labelFont": "Liberation Sans", "labelFontWeight": "bold", "labelColor": "black", "labelOverlap": false, "labelFlush": false},
  "text": {"font": "Liberation Sans"}
 }
}
